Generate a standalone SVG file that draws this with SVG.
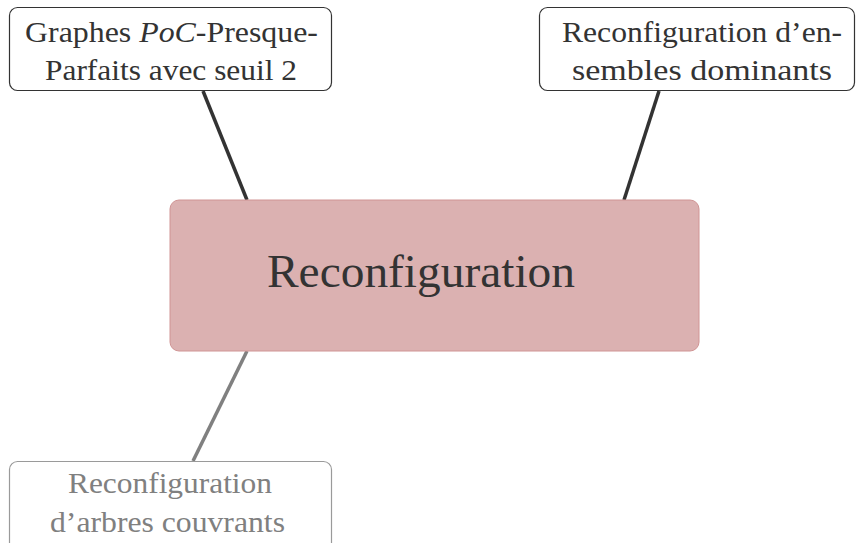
<svg xmlns="http://www.w3.org/2000/svg" width="858" height="543" viewBox="0 0 858 543">
<style>
.t{font-family:"Liberation Serif","DejaVu Serif",serif;fill:#333}
.box{fill:#fff;stroke:#333;stroke-width:1.2}
.sm{font-size:30px}
.g{fill:#808080}
</style>
<rect width="858" height="543" fill="#fff"/>
<g id="connectors" stroke-width="3.5" fill="none">
<line x1="203" y1="91" x2="247" y2="200" stroke="#333"/>
<line x1="659" y1="91" x2="624" y2="200" stroke="#333"/>
<line x1="247" y1="351" x2="193" y2="461" stroke="#808080"/>
</g>
<g id="center">
<rect x="170" y="200" width="529" height="151" rx="9" fill="#dbb1b1" stroke="#d09494" stroke-width="1"/>
<text class="t" x="267" y="287" font-size="47" textLength="308" lengthAdjust="spacingAndGlyphs">Reconfiguration</text>
</g>
<g id="poc">
<rect class="box" x="9.5" y="7.5" width="322" height="83" rx="8"/>
<text class="t sm" x="25" y="42" textLength="293" lengthAdjust="spacingAndGlyphs">Graphes <tspan font-style="italic">PoC</tspan>-Presque-</text>
<text class="t sm" x="45" y="80" textLength="252" lengthAdjust="spacingAndGlyphs">Parfaits avec seuil 2</text>
</g>
<g id="dom">
<rect class="box" x="539.5" y="7.5" width="315" height="83" rx="8"/>
<text class="t sm" x="562" y="42" textLength="280" lengthAdjust="spacingAndGlyphs">Reconfiguration d’en-</text>
<text class="t sm" x="572" y="80" textLength="260" lengthAdjust="spacingAndGlyphs">sembles dominants</text>
</g>
<g id="arbres">
<rect x="9.5" y="461.5" width="322" height="90" rx="8" fill="#fff" stroke="#9a9a9a" stroke-width="1.2"/>
<text class="t sm g" x="68" y="493" textLength="204" lengthAdjust="spacingAndGlyphs">Reconfiguration</text>
<text class="t sm g" x="50" y="532" textLength="235" lengthAdjust="spacingAndGlyphs">d’arbres couvrants</text>
</g>
</svg>
